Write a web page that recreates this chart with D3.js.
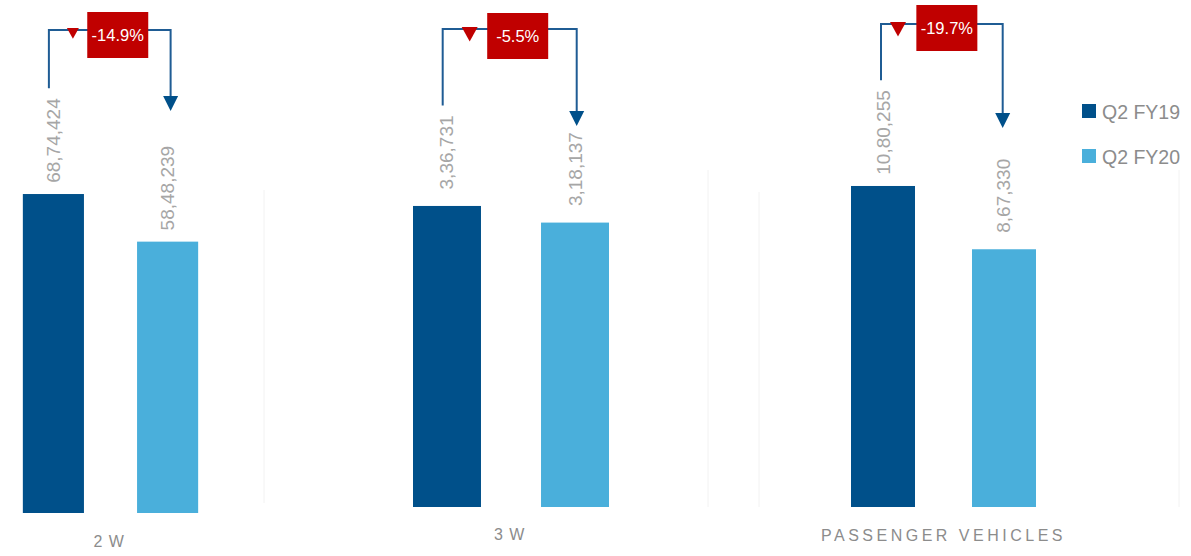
<!DOCTYPE html>
<html>
<head>
<meta charset="utf-8">
<script src="https://cdn.jsdelivr.net/npm/d3@7"></script>
<style>
  html, body { margin: 0; padding: 0; background: #ffffff; }
  svg { display: block; font-family: "Liberation Sans", Arial, sans-serif; }
</style>
</head>
<body>
<svg id="chart" width="1191" height="556"></svg>
<script>
// ---------------- data ----------------
const categories = ["2 W", "3 W", "PASSENGER VEHICLES"];
const seriesNames = ["Q2 FY19", "Q2 FY20"];
const fy19Values = [6874424, 336731, 1080255];
const fy20Values = [5848239, 318137, 867330];
const axisMax = [8000000, 400000, 1200000];

// ---------------- layout ----------------
const W = 1191, H = 556;
const colors = ["#00508a", "#4aafdb"];
const panels = [
  { x0: 0,     x1: 221,    base: 513, top: 141.8, padInner: 0.465, labelY: 547, wordSpacing: -5 },
  { x0: 387.4, x1: 634.6,  base: 507, top: 149.4, padInner: 0.469, labelY: 540, wordSpacing: -5 },
  { x0: 826.8, x1: 1060.2, base: 507, top: 150.4, padInner: 0.471, labelY: 541, wordSpacing: 0 }
];
const anno = [
  { y: 30, tipY: 111, ldx: -4.5, rdx: 3,   boxDx: 8,  boxTop: 12, triDx: 24, tri: 12 },
  { y: 29, tipY: 126, ldx: -4.3, rdx: 1.7, boxDx: 8,  boxTop: 13, triDx: 27, tri: 16 },
  { y: 24, tipY: 128, ldx: -2,   rdx: -1.3, boxDx: 5, boxTop: 5,  triDx: 17, tri: 16 }
];
const separators = [
  { x: 264, y0: 190, y1: 503 },
  { x: 708, y0: 170, y1: 507 },
  { x: 759, y0: 192, y1: 507 },
  { x: 1179, y0: 170, y1: 507 }
];

function fmtIN(n) {
  const s = String(n);
  if (s.length <= 3) return s;
  const last3 = s.slice(-3);
  const rest = s.slice(0, -3).replace(/\B(?=(\d{2})+(?!\d))/g, ",");
  return rest + "," + last3;
}
function fmtPct(a, b) {
  return ((b - a) / a * 100).toFixed(1) + "%";
}

const svg = d3.select("#chart");

// faint separators
svg.append("g").selectAll("line").data(separators).join("line")
  .attr("x1", d => d.x).attr("x2", d => d.x)
  .attr("y1", d => d.y0).attr("y2", d => d.y1)
  .attr("stroke", "#f2f2f2").attr("stroke-width", 1);

categories.forEach((cat, i) => {
  const p = panels[i];
  const a = anno[i];
  const vals = [fy19Values[i], fy20Values[i]];
  const x = d3.scaleBand().domain(seriesNames).range([p.x0, p.x1])
    .paddingInner(p.padInner).paddingOuter(0.2);
  const y = d3.scaleLinear().domain([0, axisMax[i]]).range([p.base, p.top]);
  const g = svg.append("g");
  const rows = seriesNames.map((s, k) => ({ s, v: vals[k], c: colors[k] }));

  g.selectAll("rect").data(rows).join("rect")
    .attr("x", d => x(d.s))
    .attr("y", d => y(d.v))
    .attr("width", x.bandwidth())
    .attr("height", d => y(0) - y(d.v))
    .attr("fill", d => d.c);

  const labels = g.selectAll("text.val").data(rows).join("text")
    .attr("class", "val")
    .attr("transform", d => `translate(${x(d.s) + x.bandwidth() / 2 + 6.5},${y(d.v) - 53.5}) rotate(-90)`)
    .attr("text-anchor", "middle")
    .attr("font-size", 19)
    .attr("fill", "#a6a6a6")
    .text(d => fmtIN(d.v));

  // category label
  g.append("text")
    .attr("x", (x(seriesNames[0]) + x(seriesNames[1]) + x.bandwidth()) / 2)
    .attr("y", p.labelY)
    .attr("text-anchor", "middle")
    .attr("font-size", 16)
    .attr("letter-spacing", "3.5px")
    .attr("word-spacing", p.wordSpacing + "px")
    .attr("fill", "#8c8c8c")
    .text(cat);

  // annotation
  const len0 = labels.nodes()[0].getComputedTextLength();
  const lx = x(seriesNames[0]) + x.bandwidth() / 2 + a.ldx;
  const rx = x(seriesNames[1]) + x.bandwidth() / 2 + a.rdx;
  const leftBottom = y(vals[0]) - 53.5 - len0 / 2 - 10;
  const lineColor = "#1f5c94";
  g.append("path")
    .attr("d", `M${lx},${leftBottom} V${a.y} H${rx} V${a.tipY - 14}`)
    .attr("fill", "none")
    .attr("stroke", lineColor)
    .attr("stroke-width", 2);
  g.append("path")
    .attr("d", `M${rx - 7.5},${a.tipY - 15} L${rx + 7.5},${a.tipY - 15} L${rx},${a.tipY} Z`)
    .attr("fill", "#00508a");
  const boxW = 61, boxH = 46;
  const cx = (lx + rx) / 2 + a.boxDx;
  g.append("rect")
    .attr("x", cx - boxW / 2).attr("y", a.boxTop)
    .attr("width", boxW).attr("height", boxH)
    .attr("fill", "#c00000");
  g.append("text")
    .attr("x", cx).attr("y", a.boxTop + boxH / 2 + 6)
    .attr("text-anchor", "middle")
    .attr("font-size", 16.5)
    .attr("fill", "#ffffff")
    .text(fmtPct(vals[0], vals[1]));
  const tx = lx + a.triDx, ts = a.tri;
  g.append("path")
    .attr("d", `M${tx - ts / 2},${a.y - 2} L${tx + ts / 2},${a.y - 2} L${tx},${a.y - 2 + ts * 0.9} Z`)
    .attr("fill", "#c00000");
});

// legend
const legend = svg.append("g").selectAll("g").data(seriesNames).join("g")
  .attr("transform", (d, k) => `translate(1082,${104 + k * 45})`);
legend.append("rect").attr("width", 14).attr("height", 14).attr("fill", (d, k) => colors[k]);
legend.append("text").attr("x", 20).attr("y", 14.5)
  .attr("font-size", 19.5).attr("fill", "#8c8c8c").text(d => d);
</script>
</body>
</html>
